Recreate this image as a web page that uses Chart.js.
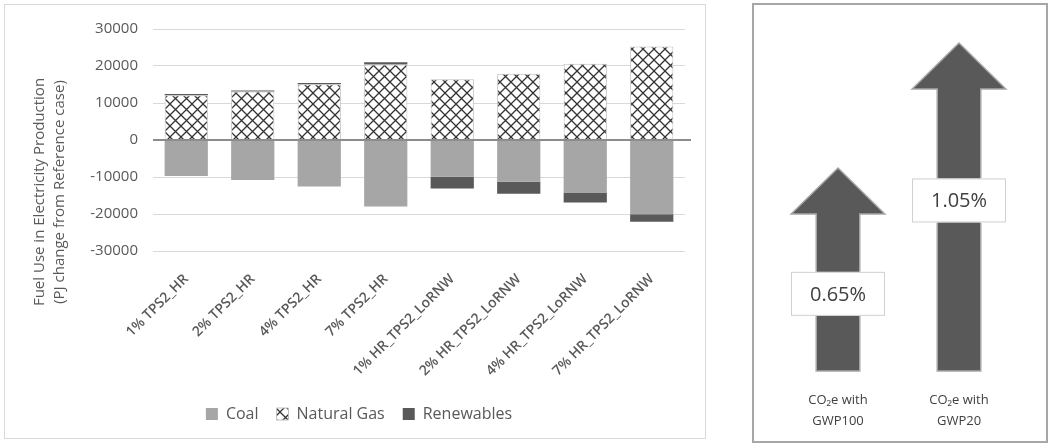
<!DOCTYPE html>
<html>
<head>
<meta charset="utf-8">
<style>
  body { margin: 0; background: #fff; }
  #left { position: absolute; left: 4px; top: 4px; width: 700px; height: 433px; border: 1px solid #d9d9d9; }
  #right { position: absolute; left: 752px; top: 3px; width: 292px; height: 436px; border: 2px solid #a6a6a6; }
  canvas { display: block; }
</style>
</head>
<body>
<div id="left"><canvas id="fuelChart" width="700" height="433"></canvas></div>
<div id="right"><canvas id="co2Chart" width="292" height="436"></canvas></div>

<script src="https://cdn.jsdelivr.net/npm/chart.js@4.4.2/dist/chart.umd.min.js"></script>
<script>
// data (PJ change from reference case)
const scenarios = ['1% TPS2_HR', '2% TPS2_HR', '4% TPS2_HR', '7% TPS2_HR',
                   '1% HR_TPS2_LoRNW', '2% HR_TPS2_LoRNW', '4% HR_TPS2_LoRNW', '7% HR_TPS2_LoRNW'];
const coal = [-9700, -10800, -12600, -18000, -9900, -11300, -14200, -20100];
const naturalGas = [12100, 13100, 15100, 20400, 16400, 17900, 20600, 25300];
const renewables = [300, 300, 300, 600, -3200, -3200, -2700, -2000];
const yTicks = [-30000, -20000, -10000, 0, 10000, 20000, 30000];

// right panel: increase in CO2e emissions
const co2Labels = [['CO\u2082e with', 'GWP100'], ['CO\u2082e with', 'GWP20']];
const co2Increase = [0.65, 1.05];

const font = 'Open Sans';
const textGrey = '#595959';

// diamond cross hatch for natural gas
function makeHatch() {
    const s = 11;
    const c = document.createElement('canvas');
    c.width = s; c.height = s;
    const g = c.getContext('2d');
    g.fillStyle = '#ffffff';
    g.fillRect(0, 0, s, s);
    g.strokeStyle = '#333333';
    g.lineWidth = 1.3;
    g.beginPath();
    g.moveTo(0, 0); g.lineTo(s, s);
    g.moveTo(s, 0); g.lineTo(0, s);
    g.stroke();
    return g.createPattern(c, 'repeat');
}
const hatch = makeHatch();

// y axis title (two lines) and zero line over the bars
const leftExtras = {
    id: 'leftExtras',
    afterDatasetsDraw(chart) {
        const ctx = chart.ctx;
        const y = chart.scales.y;
        const area = chart.chartArea;
        const y0 = y.getPixelForValue(0);
        ctx.save();
        ctx.strokeStyle = '#8c8c8c';
        ctx.lineWidth = 2;
        ctx.beginPath();
        ctx.moveTo(area.left, y0);
        ctx.lineTo(area.right + 6, y0);
        ctx.stroke();

        ctx.fillStyle = textGrey;
        ctx.font = '15px "' + font + '"';
        ctx.textAlign = 'center';
        ctx.textBaseline = 'middle';
        ctx.translate(35, 187);
        ctx.rotate(-Math.PI / 2);
        ctx.fillText('Fuel Use in Electricity Production', 0, 0);
        ctx.fillText('(PJ change from Reference case)', 0, 20);
        ctx.restore();
    }
};

new Chart(document.getElementById('fuelChart'), {
    type: 'bar',
    data: {
        labels: scenarios,
        datasets: [
            { label: 'Coal', data: coal, backgroundColor: '#a6a6a6', borderWidth: 0 },
            { label: 'Natural Gas', data: naturalGas, backgroundColor: hatch, borderColor: '#bfbfbf', borderWidth: 1 },
            { label: 'Renewables', data: renewables, backgroundColor: '#595959', borderWidth: 0 }
        ]
    },
    options: {
        responsive: false,
        animation: false,
        layout: { padding: { top: 23, right: 20, bottom: 6, left: 28 } },
        datasets: { bar: { categoryPercentage: 1, barPercentage: 0.65 } },
        plugins: {
            legend: {
                position: 'bottom',
                labels: {
                    boxWidth: 12, boxHeight: 12, padding: 18,
                    color: textGrey, font: { family: font, size: 16 }
                }
            },
            tooltip: { enabled: false }
        },
        scales: {
            x: {
                stacked: true,
                grid: { display: false },
                border: { display: false },
                ticks: {
                    minRotation: 45, maxRotation: 45, padding: 12,
                    color: textGrey, font: { family: font, size: 14, weight: '600' }
                },
                afterFit(s) { s.height = 137; }
            },
            y: {
                stacked: true,
                min: -30000, max: 30000,
                afterBuildTicks(s) { s.ticks = yTicks.map(v => ({ value: v })); },
                grid: { color: '#d9d9d9', drawTicks: false },
                border: { display: false },
                ticks: {
                    padding: 15, color: textGrey, font: { family: font, size: 15 },
                    callback: v => String(v)
                },
                afterFit(s) { s.width = 120; }
            }
        }
    },
    plugins: [leftExtras]
});

// arrows, value boxes and labels for the right panel
const boxFrac = [0.38, 0.52];
const arrowPlugin = {
    id: 'arrows',
    afterDatasetsDraw(chart) {
        const ctx = chart.ctx;
        const meta = chart.getDatasetMeta(0);
        meta.data.forEach((bar, i) => {
            const w = bar.width;
            const hw = w * 2.15;
            const hh = 46;
            const x = bar.x, top = bar.y, base = bar.base;
            ctx.save();
            ctx.beginPath();
            ctx.moveTo(x - w / 2, base);
            ctx.lineTo(x - w / 2, top + hh);
            ctx.lineTo(x - hw / 2, top + hh);
            ctx.lineTo(x, top);
            ctx.lineTo(x + hw / 2, top + hh);
            ctx.lineTo(x + w / 2, top + hh);
            ctx.lineTo(x + w / 2, base);
            ctx.closePath();
            ctx.fillStyle = '#595959';
            ctx.fill();
            ctx.strokeStyle = '#a6a6a6';
            ctx.lineWidth = 1.5;
            ctx.stroke();

            // value box
            const by = base - (base - top) * boxFrac[i];
            ctx.fillStyle = '#ffffff';
            ctx.fillRect(x - 47, by - 22, 94, 44);
            ctx.strokeStyle = '#d0d0d0';
            ctx.lineWidth = 1;
            ctx.strokeRect(x - 46.5, by - 21.5, 93, 43);
            ctx.fillStyle = '#404040';
            ctx.font = '20px "' + font + '"';
            ctx.textAlign = 'center';
            ctx.textBaseline = 'middle';
            ctx.fillText(co2Increase[i].toFixed(2) + '%', x, by + 1);

            // category label
            ctx.font = '13px "' + font + '"';
            ctx.fillText(co2Labels[i][0], x, base + 29);
            ctx.fillText(co2Labels[i][1], x, base + 50);
            ctx.restore();
        });
    }
};

new Chart(document.getElementById('co2Chart'), {
    type: 'bar',
    data: {
        labels: co2Labels.map(l => l.join(' ')),
        datasets: [{ data: co2Increase, backgroundColor: 'rgba(0,0,0,0)', borderWidth: 0 }]
    },
    options: {
        responsive: false,
        animation: false,
        layout: { padding: { top: 38, right: 26.5, bottom: 70, left: 23.5 } },
        datasets: { bar: { categoryPercentage: 1, barPercentage: 0.36 } },
        plugins: { legend: { display: false }, tooltip: { enabled: false } },
        scales: {
            x: { display: false },
            y: { display: false, min: 0, max: 1.05 }
        }
    },
    plugins: [arrowPlugin]
});
</script>
</body>
</html>
